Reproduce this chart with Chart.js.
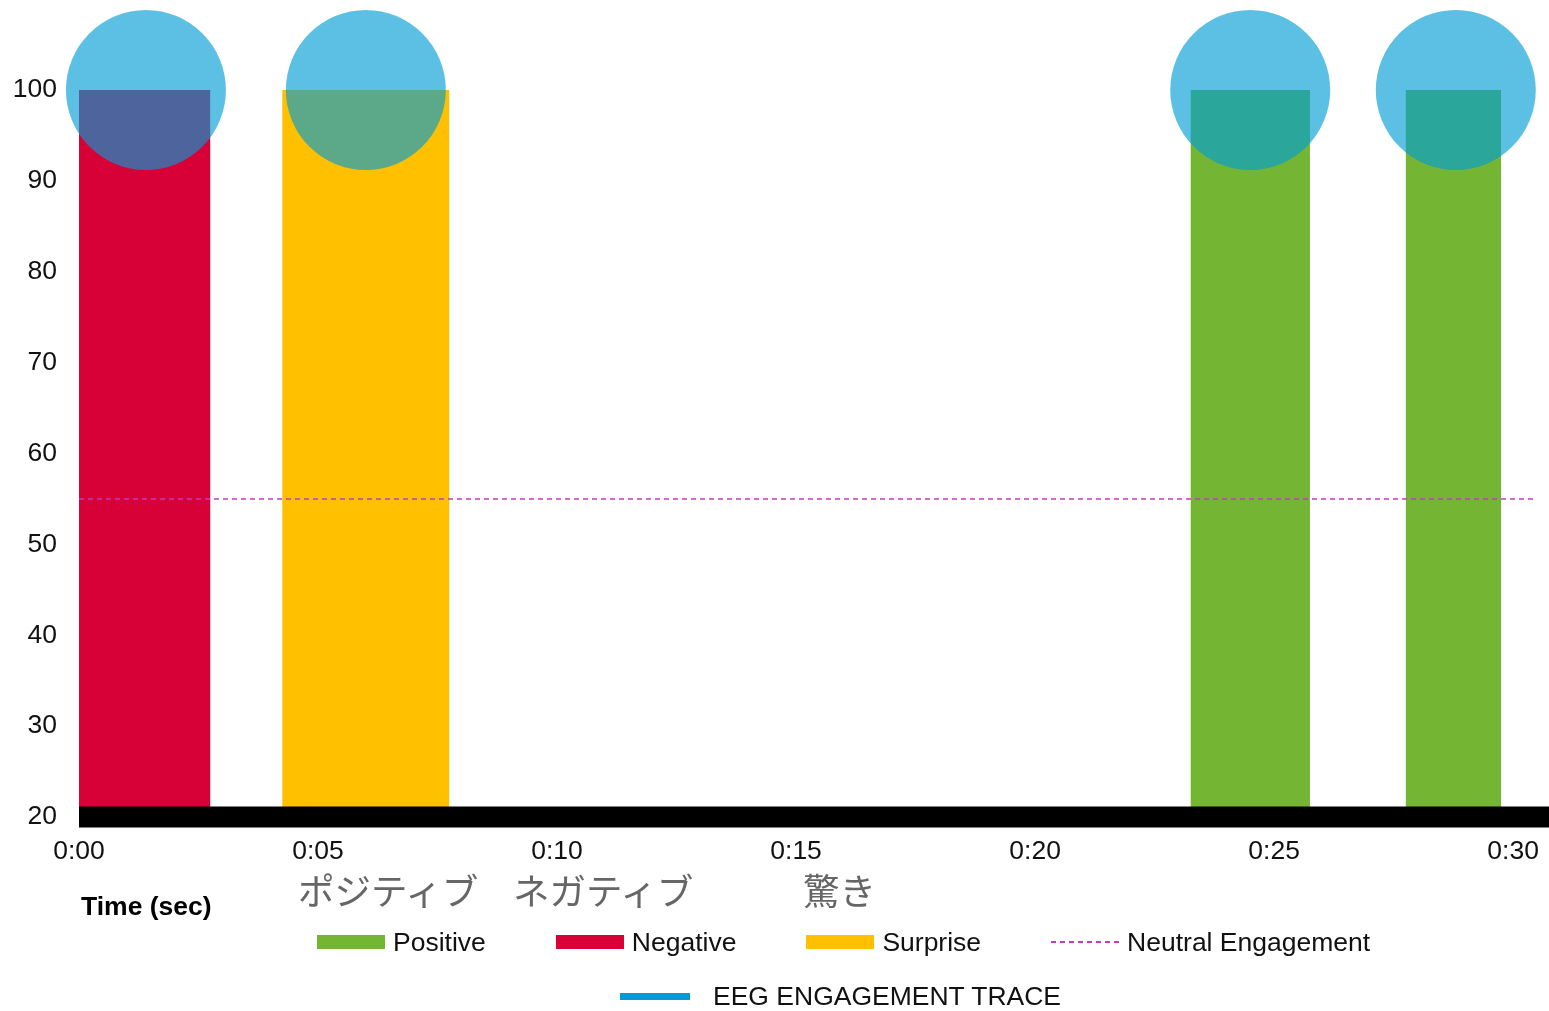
<!DOCTYPE html>
<html>
<head>
<meta charset="utf-8">
<script src="https://cdn.jsdelivr.net/npm/chart.js@4.4.1/dist/chart.umd.min.js"></script>
<style>
  html, body { margin: 0; padding: 0; background: #fff; }
  #wrap { position: relative; width: 1549px; height: 1011px; overflow: hidden;
          font-family: "Liberation Sans", Arial, sans-serif; color: #111; }
  #wrap canvas { position: absolute; left: 0; top: 0; }
  .txt { position: absolute; white-space: nowrap; font-size: 26.5px; line-height: 32px; height: 32px; }
  .axis-title { left: 81px; top: 890px; font-weight: bold; color: #000; }
  .ja { position: absolute; white-space: nowrap; top: 868px; font-family: "Noto Sans CJK JP", sans-serif;
        font-size: 36.5px; line-height: 44px; color: #666; }
  .row { position: absolute; display: flex; align-items: center; height: 32px; }
  .item { display: flex; align-items: center; font-size: 26.5px; line-height: 32px; white-space: nowrap; }
  .swatch { width: 68px; height: 14px; margin-right: 8px; }
  .dash { width: 68px; height: 1.5px; margin-right: 8px;
          background: repeating-linear-gradient(90deg, #c23bc2 0 5px, transparent 5px 9px); }
  .trace { width: 70px; height: 7px; margin-right: 23px; }
</style>
</head>
<body>
<div id="wrap">
  <canvas id="chart"></canvas>
  <div class="txt axis-title">Time (sec)</div>
  <div id="jaLabels"></div>
  <div class="row" id="legendTop" style="left:317px; top:926px; gap:70px;"></div>
  <div class="row" id="legendBottom" style="left:620px; top:980px;"></div>
</div>
<script>
// Emotion segments along the timeline (seconds) and their level
const segmentEmotion = ['Negative', 'Surprise', 'Positive', 'Positive'];
const segmentStart = [0, 4.25, 23.25, 27.75];
const segmentEnd = [2.75, 7.75, 25.75, 29.75];
const segmentLevel = [100, 100, 100, 100];

// EEG engagement trace samples
const eegTime = [1.4, 6.0, 24.5, 28.8];
const eegLevel = [100, 100, 100, 100];

// Neutral engagement reference
const neutralLevel = 55;
const neutralSpan = [0, 30.5];

// Axes
const timeRange = [0, 30.75];
const xTickSeconds = [0, 5, 10, 15, 20, 25, 30];
const xTickLabels = ['0:00', '0:05', '0:10', '0:15', '0:20', '0:25', '0:30'];
const yTicks = [20, 30, 40, 50, 60, 70, 80, 90, 100];

// Legend names
const emotionNames = ['Positive', 'Negative', 'Surprise'];
const emotionNamesJa = ['ポジティブ', 'ネガティブ', '驚き'];
const neutralName = 'Neutral Engagement';
const eegName = 'EEG ENGAGEMENT TRACE';

const emotionColors = { Positive: '#74b634', Negative: '#d70037', Surprise: '#ffc000' };
const neutralColor = '#c23bc2';
const eegColor = '#009cd6';
const eegFill = 'rgba(0, 156, 214, 0.64)';

const yMin = yTicks[0];
const yMax = yTicks[yTicks.length - 1];

const segmentSets = segmentEmotion.map((emotion, i) => ({
  type: 'line',
  label: emotion,
  data: [
    { x: segmentStart[i], y: yMin },
    { x: segmentStart[i], y: segmentLevel[i] },
    { x: segmentEnd[i], y: segmentLevel[i] },
    { x: segmentEnd[i], y: yMin },
  ],
  fill: 'origin',
  backgroundColor: emotionColors[emotion],
  borderColor: 'rgba(0,0,0,0)',
  borderWidth: 0,
  pointRadius: 0,
  tension: 0,
}));

Chart.defaults.font.family = '"Liberation Sans", Arial, sans-serif';
Chart.defaults.font.size = 26.5;
Chart.defaults.color = '#111';

new Chart(document.getElementById('chart'), {
  type: 'line',
  data: {
    datasets: [
      {
        label: eegName,
        data: eegTime.map((t, i) => ({ x: t, y: eegLevel[i] })),
        showLine: false,
        pointRadius: 80,
        pointBackgroundColor: eegFill,
        pointBorderWidth: 0,
        clip: false,
      },
      {
        // thick black time axis, over the segments
        label: 'axis',
        data: timeRange.map(t => ({ x: t, y: yMin })),
        borderColor: '#000',
        borderWidth: 21,
        borderCapStyle: 'butt',
        pointRadius: 0,
        fill: false,
        clip: false,
      },
      {
        label: neutralName,
        data: neutralSpan.map(t => ({ x: t, y: neutralLevel })),
        borderColor: neutralColor,
        borderWidth: 1.5,
        borderDash: [5, 4],
        pointRadius: 0,
        fill: false,
      },
      ...segmentSets,
    ],
  },
  options: {
    responsive: true,
    maintainAspectRatio: false,
    animation: false,
    events: [],
    // big trace markers must not push the plot area inwards
    layout: { autoPadding: false, padding: { top: 90, bottom: 148, left: 0, right: 0 } },
    plugins: { legend: { display: false }, tooltip: { enabled: false } },
    scales: {
      x: {
        type: 'linear',
        min: timeRange[0],
        max: timeRange[1],
        afterBuildTicks: scale => { scale.ticks = xTickSeconds.map(v => ({ value: v })); },
        afterFit: scale => {
          scale.height = 46;
          scale.paddingLeft = 0;
          scale.paddingRight = 0;
        },
        ticks: {
          callback: (value, index) => xTickLabels[index],
          padding: 19,
          maxRotation: 0,
          autoSkip: false,
        },
        grid: { display: false, drawTicks: false },
        border: { display: false },
      },
      y: {
        type: 'linear',
        min: yMin,
        max: yMax,
        afterBuildTicks: scale => { scale.ticks = yTicks.map(v => ({ value: v })); },
        afterFit: scale => { scale.width = 79; },
        ticks: { padding: 22 },
        grid: { display: false, drawTicks: false },
        border: { display: false },
      },
    },
  },
});

// Japanese category captions under the axis
const jaLeft = [298, 513, 803];
const jaBox = document.getElementById('jaLabels');
emotionNamesJa.forEach((name, i) => {
  const el = document.createElement('div');
  el.className = 'ja';
  el.style.left = jaLeft[i] + 'px';
  el.textContent = name;
  jaBox.appendChild(el);
});

// Legend rows
function legendItem(markClass, color, text) {
  const item = document.createElement('div');
  item.className = 'item';
  const mark = document.createElement('span');
  mark.className = markClass;
  if (color) mark.style.background = color;
  const label = document.createElement('span');
  label.textContent = text;
  item.append(mark, label);
  return item;
}
const legendTopRow = document.getElementById('legendTop');
emotionNames.forEach(name => legendTopRow.appendChild(legendItem('swatch', emotionColors[name], name)));
legendTopRow.appendChild(legendItem('dash', null, neutralName));
document.getElementById('legendBottom').appendChild(legendItem('trace', eegColor, eegName));
</script>
</body>
</html>
